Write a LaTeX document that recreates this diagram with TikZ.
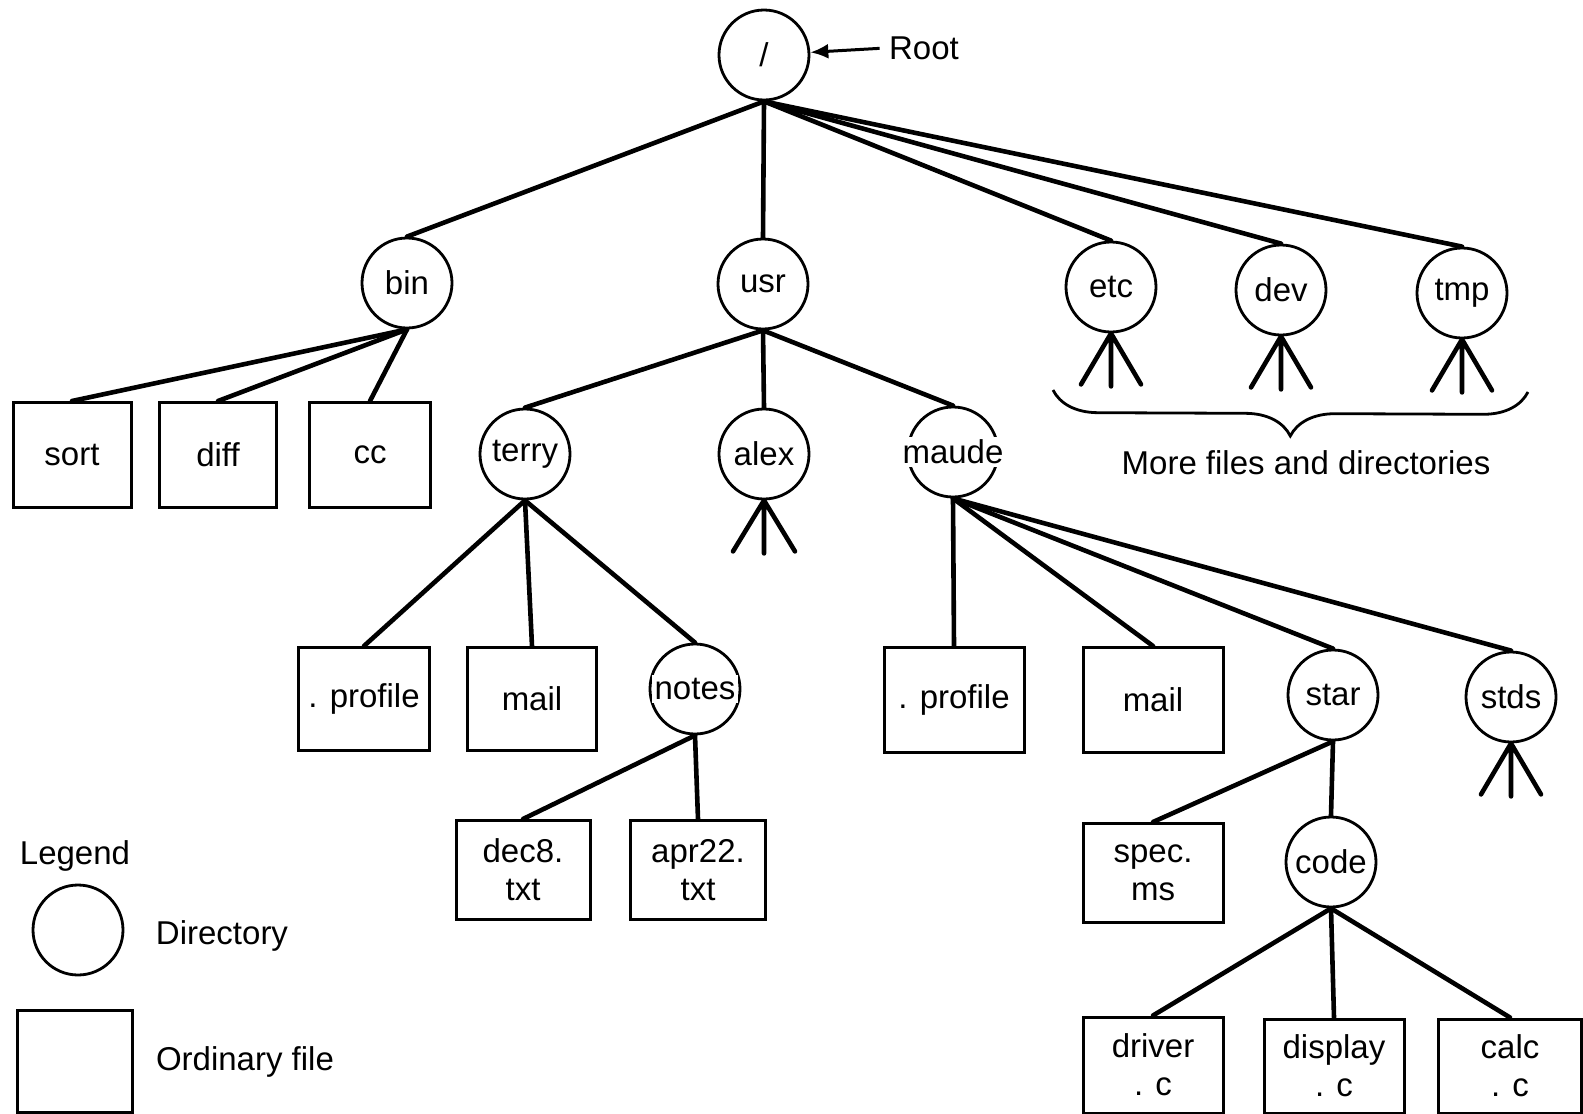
\documentclass[tikz,border=0pt]{standalone}
\usepackage{fontspec}
\setmainfont{Liberation Sans}
\usetikzlibrary{arrows.meta,decorations.pathreplacing}

\tikzset{
  treefont/.style={font=\fontsize{33pt}{38pt}\selectfont},
  dir/.style={circle, draw, line width=2.8pt, minimum size=90pt, inner sep=0pt, treefont},
  widedir/.style={dir, label={[fill=white, inner sep=3pt, treefont]center:#1}},
  file/.style={rectangle, draw, line width=3pt, minimum width=140pt, minimum height=101pt, inner sep=0pt, align=center, treefont},
  edge/.style={line width=4.6pt, line cap=round},
  note/.style={treefont},
}

\begin{document}
\begin{tikzpicture}[x=1pt,y=1pt]
\useasboundingbox (0,0) rectangle (1583,-1114);
\node[dir] (root) at (764,-55) {/};
\node[note] (rootlbl) at (924,-48) {Root};
\draw[line width=3pt, shorten <=6pt, -{Latex[length=18pt,width=15pt]}] (rootlbl.west) -- (root);
\node[dir] (bin) at (407,-283) {bin};
\node[dir] (usr) at (763,-284) {usr};
\node[dir] (etc) at (1111,-287) {etc};
\node[dir] (dev) at (1281,-290) {dev};
\node[dir] (tmp) at (1462,-293) {tmp};
\node[file, minimum width=118pt, minimum height=105pt] (sort) at (72,-455) {sort};
\node[file, minimum width=117pt, minimum height=105pt] (diff) at (218,-455) {diff};
\node[file, minimum width=121pt, minimum height=105pt] (cc) at (370,-455) {cc};
\node[dir] (terry) at (525,-454) {terry};
\node[dir] (alex) at (764,-454) {alex};
\node[widedir=maude] (maude) at (953,-452) {};
\node[file, minimum width=131pt, minimum height=103pt] (profa) at (364,-699) {. profile};
\node[file, minimum width=129pt, minimum height=103pt] (maila) at (532,-699) {mail};
\node[widedir=notes] (notes) at (695,-689) {};
\node[file, minimum width=134pt, minimum height=99pt] (dec) at (523,-870) {dec8.\\txt};
\node[file, minimum width=135pt, minimum height=99pt] (apr) at (698,-870) {apr22.\\txt};
\node[file, minimum height=105pt] (profb) at (954,-700) {. profile};
\node[file, minimum height=105pt] (mailb) at (1153,-700) {mail};
\node[dir] (star) at (1333,-695) {star};
\node[dir] (stds) at (1511,-697) {stds};
\node[file, minimum height=99pt] (spec) at (1153,-873) {spec.\\ms};
\node[dir] (code) at (1331,-862) {code};
\node[file, minimum height=96pt] (driver) at (1153,-1065) {driver\\. c};
\node[file, minimum height=94pt] (display) at (1334,-1066) {display\\. c};
\node[file, minimum width=143pt, minimum height=94pt] (calc) at (1510,-1066) {calc\\. c};
\draw[edge] (root.south) -- (bin.north);
\draw[edge] (root.south) -- (usr.north);
\draw[edge] (root.south) -- (etc.north);
\draw[edge] (root.south) -- (dev.north);
\draw[edge] (root.south) -- (tmp.north);
\draw[edge] (bin.south) -- (sort.north);
\draw[edge] (bin.south) -- (diff.north);
\draw[edge] (bin.south) -- (cc.north);
\draw[edge] (usr.south) -- (terry.north);
\draw[edge] (usr.south) -- (alex.north);
\draw[edge] (usr.south) -- (maude.north);
\draw[edge] (terry.south) -- (profa.north);
\draw[edge] (terry.south) -- (maila.north);
\draw[edge] (terry.south) -- (notes.north);
\draw[edge] (notes.south) -- (dec.north);
\draw[edge] (notes.south) -- (apr.north);
\draw[edge] (maude.south) -- (profb.north);
\draw[edge] (maude.south) -- (mailb.north);
\draw[edge] (maude.south) -- (star.north);
\draw[edge] (maude.south) -- (stds.north);
\draw[edge] (star.south) -- (spec.north);
\draw[edge] (star.south) -- (code.north);
\draw[edge] (code.south) -- (driver.north);
\draw[edge] (code.south) -- (display.north);
\draw[edge] (code.south) -- (calc.north);
\draw[edge] (alex.south) -- ++(-31,-51) (alex.south) -- ++(0,-53) (alex.south) -- ++(31,-51);
\draw[edge] (etc.south) -- ++(-30,-51) (etc.south) -- ++(0,-53) (etc.south) -- ++(30,-51);
\draw[edge] (dev.south) -- ++(-30,-51) (dev.south) -- ++(0,-53) (dev.south) -- ++(30,-51);
\draw[edge] (tmp.south) -- ++(-30,-51) (tmp.south) -- ++(0,-53) (tmp.south) -- ++(30,-51);
\draw[edge] (stds.south) -- ++(-30,-51) (stds.south) -- ++(0,-53) (stds.south) -- ++(30,-51);
\coordinate (bracel) at (1053,-390);
\coordinate (bracer) at (1528,-392);
\draw[line width=2.8pt, decorate, decoration={brace, mirror, amplitude=45pt}] (bracel) -- (bracer);
\node[note] (more) at (1306,-463) {More files and directories};
\node[note] (legend) at (75,-856) {Legend};
\node[dir] (legdir) at (78,-930) {};
\node[note] (legdirtxt) at (222,-936) {Directory};
\node[file, minimum width=115pt, minimum height=102pt] (legfile) at (75,-1061) {};
\node[note] (legfiletxt) at (245,-1062) {Ordinary file};
\end{tikzpicture}
\end{document}
